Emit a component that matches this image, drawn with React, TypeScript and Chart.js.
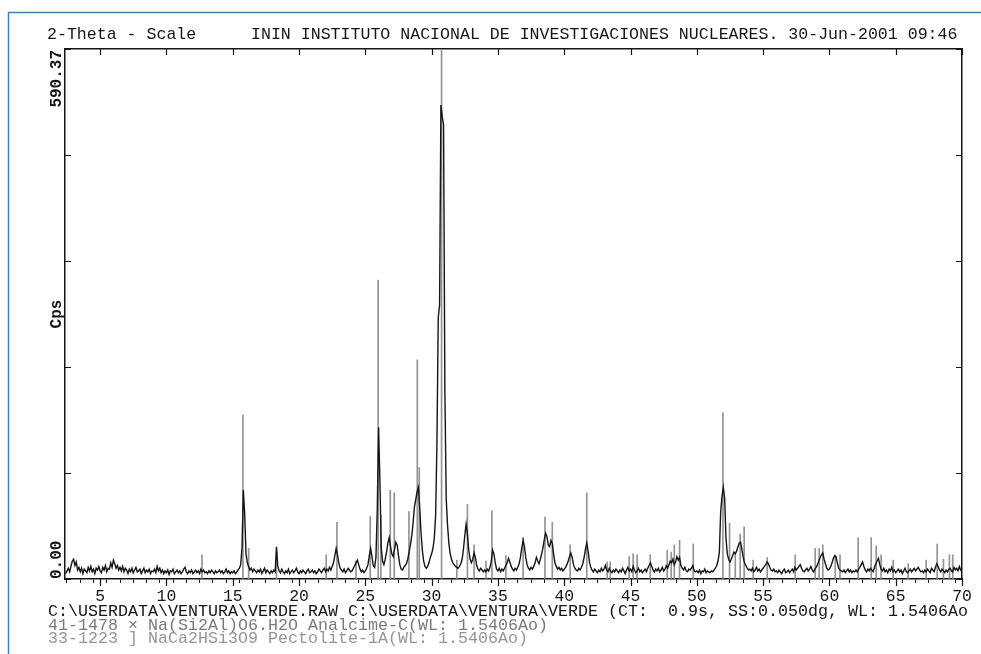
import React, { useEffect, useRef } from 'react';
import { Chart, registerables } from 'chart.js';

Chart.register(...registerables);

// ---- scan (measured pattern), 0.1 deg rows ----
const SCAN_START = 2.4;
const SCAN_STEP = 0.1;
const counts: number[] = [
  6, 9, 12, 8, 14, 20, // 2.4-2.9
  22, 15, 19, 10, 13, 8, 12, 6, 11, 9, // 3
  7, 13, 9, 14, 8, 11, 6, 12, 10, 14, // 4
  9, 7, 13, 10, 15, 8, 12, 11, 18, 13, // 5
  21, 17, 12, 15, 10, 13, 9, 14, 8, 12, // 6
  10, 6, 11, 8, 12, 7, 10, 13, 8, 9, // 7
  11, 6, 9, 12, 7, 10, 8, 11, 6, 9, // 8
  8, 11, 7, 14, 9, 12, 7, 10, 6, 9, // 9
  7, 10, 5, 9, 8, 11, 6, 8, 10, 7, // 10
  9, 6, 8, 11, 13, 8, 6, 9, 7, 10, // 11
  6, 8, 10, 7, 9, 6, 11, 8, 10, 7, // 12
  8, 6, 9, 7, 10, 8, 6, 9, 7, 8, // 13
  10, 7, 9, 6, 8, 11, 7, 9, 6, 8, // 14
  7, 9, 6, 8, 10, 12, 16, 35, 99, 73, // 15
  28, 18, 14, 10, 12, 8, 11, 9, 7, 10, // 16
  8, 11, 6, 9, 12, 7, 10, 8, 6, 9, // 17
  7, 10, 8, 36, 14, 9, 7, 11, 8, 6, // 18
  9, 7, 11, 6, 8, 10, 7, 9, 12, 8, // 19
  6, 9, 7, 10, 8, 6, 9, 11, 7, 8, // 20
  10, 7, 9, 6, 8, 11, 9, 7, 10, 12, // 21
  8, 11, 9, 13, 10, 14, 18, 26, 34, 27, // 22
  18, 12, 10, 8, 11, 7, 9, 12, 10, 8, // 23
  9, 12, 15, 18, 21, 16, 11, 8, 10, 7, // 24
  9, 12, 16, 26, 34, 25, 15, 13, 24, 77, // 25
  169, 110, 35, 20, 16, 22, 30, 40, 46, 36, // 26
  28, 25, 33, 41, 38, 26, 16, 11, 10, 13, // 27
  15, 17, 22, 30, 38, 48, 62, 80, 88, 97, // 28
  102, 80, 52, 32, 20, 14, 12, 14, 18, 24, // 29
  28, 34, 45, 70, 150, 291, 305, 528, 515, 506, // 30
  210, 90, 60, 40, 28, 22, 18, 16, 14, 13, // 31
  12, 14, 17, 22, 33, 48, 61, 50, 32, 22, // 32
  18, 22, 29, 24, 15, 11, 9, 12, 10, 8, // 33
  10, 8, 11, 9, 13, 20, 32, 28, 18, 11, // 34
  9, 12, 8, 11, 9, 12, 15, 18, 23, 19, // 35
  14, 11, 9, 12, 10, 13, 17, 24, 35, 43, // 36
  36, 24, 16, 12, 10, 13, 11, 14, 18, 24, // 37
  20, 17, 22, 28, 35, 44, 51, 47, 38, 36, // 38
  43, 40, 28, 18, 14, 11, 13, 10, 12, 9, // 39
  11, 13, 16, 20, 25, 29, 24, 16, 12, 10, // 40
  9, 12, 10, 13, 17, 24, 33, 40, 31, 19, // 41
  13, 10, 8, 11, 9, 7, 10, 8, 12, 9, // 42
  11, 15, 10, 8, 12, 9, 7, 10, 8, 11, // 43
  9, 7, 10, 8, 12, 9, 6, 10, 13, 9, // 44
  11, 8, 14, 10, 7, 9, 12, 8, 10, 7, // 45
  9, 11, 8, 12, 15, 18, 14, 10, 8, 11, // 46
  9, 12, 8, 10, 13, 9, 11, 15, 12, 16, // 47
  20, 18, 22, 16, 19, 25, 21, 24, 15, 12, // 48
  10, 13, 9, 8, 11, 10, 12, 15, 9, 8, // 49
  9, 7, 10, 6, 9, 8, 11, 7, 9, 8, // 50
  7, 9, 8, 10, 12, 15, 20, 30, 75, 92, // 51
  102, 90, 45, 28, 22, 19, 22, 26, 30, 28, // 52
  31, 36, 40, 41, 33, 24, 18, 15, 12, 10, // 53
  11, 9, 12, 8, 10, 13, 9, 11, 8, 10, // 54
  12, 14, 16, 19, 17, 13, 10, 9, 11, 8, // 55
  9, 7, 10, 8, 6, 9, 11, 7, 8, 10, // 56
  7, 9, 11, 8, 13, 10, 12, 14, 16, 12, // 57
  9, 8, 10, 12, 9, 11, 14, 10, 8, 11, // 58
  13, 16, 20, 24, 27, 29, 22, 17, 12, 10, // 59
  11, 14, 18, 23, 26, 25, 18, 12, 10, 9, // 60
  8, 10, 7, 9, 11, 8, 10, 7, 9, 8, // 61
  10, 8, 11, 13, 16, 19, 14, 10, 8, 11, // 62
  9, 12, 10, 8, 13, 17, 20, 23, 16, 11, // 63
  9, 12, 8, 10, 7, 11, 9, 13, 8, 10, // 64
  7, 9, 11, 8, 10, 6, 9, 12, 8, 7, // 65
  9, 11, 8, 10, 12, 9, 11, 13, 10, 8, // 66
  9, 7, 10, 8, 11, 9, 7, 12, 10, 8, // 67
  13, 17, 14, 10, 8, 11, 9, 7, 10, 8, // 68
  11, 12, 9, 8, 13, 10, 12, 9, 14, 10, // 69
  8, // 70
];
const twoTheta: number[] = counts.map((_, i) => Math.round((SCAN_START + i * SCAN_STEP) * 100) / 100);

// ---- reference patterns (stick lines) ----
const analcimePos = [15.77, 18.3, 24.3, 25.97, 31.9, 33.2, 35.6, 36.9, 40.45, 43.24, 45.2, 47.77, 48.7, 51.97, 52.47, 53.27, 54.25, 55.31, 57.42, 59.23, 60.44, 62.17, 64.81, 65.94, 67.3, 68.13, 69.05];
const analcimeInt = [183, 30, 20, 333, 21, 38, 26, 46, 38, 19, 28, 32, 43, 185, 62, 50, 21, 24, 27, 34, 27, 46, 21, 17, 21, 39, 27];
const pectolitePos = [12.68, 16.2, 22.05, 22.86, 25.37, 26.17, 26.88, 27.18, 28.29, 28.92, 29.07, 30.75, 32.7, 34.1, 34.55, 38.55, 39.1, 41.7, 43.47, 44.9, 45.5, 46.49, 48.07, 48.3, 49.73, 52.9, 53.57, 58.93, 59.5, 60.8, 63.15, 63.53, 63.9, 68.6, 69.3];
const pectoliteInt = [27, 34, 27, 63, 70, 71, 99, 96, 75, 244, 124, 600, 83, 20, 76, 69, 63, 96, 19, 25, 27, 27, 30, 38, 39, 27, 58, 34, 38, 27, 46, 37, 27, 22, 27];

// ---- axes ----
const X_MIN = 2.35;
const X_MAX = 70;
const Y_MAX = 590.37;
const X_LABEL_EVERY = 5;

// ---- texts ----
const headerLeft = '2-Theta - Scale';
const headerRight = 'ININ INSTITUTO NACIONAL DE INVESTIGACIONES NUCLEARES. 30-Jun-2001 09:46';
const yTitle = 'Cps';
const footerLines = [
  'C:\\USERDATA\\VENTURA\\VERDE.RAW C:\\USERDATA\\VENTURA\\VERDE (CT:  0.9s, SS:0.050dg, WL: 1.5406Ao',
  '41-1478 \u00d7 Na(Si2Al)O6.H2O Analcime-C(WL: 1.5406Ao)',
  '33-1223 ] NaCa2HSi3O9 Pectolite-1A(WL: 1.5406Ao)',
];
const footerColors = ['#151515', '#7a7a7a', '#969696'];

const MONO = "'Liberation Mono', 'DejaVu Sans Mono', monospace";
const INK = '#151515';
const STICK = '#939393';

// draw a monospace string so that each character cell is `pitch` px wide
function monoText(ctx: any, text: string, x: number, y: number, pitch: number) {
  const natural = ctx.measureText(text).width;
  const k = (pitch * text.length) / natural;
  ctx.save();
  ctx.translate(x, y);
  ctx.scale(k, 1);
  ctx.fillText(text, 0, 0);
  ctx.restore();
}

const decorPlugin = {
  id: 'decor',
  beforeDraw(chart: any) {
    const { ctx, width, height } = chart;
    ctx.save();
    ctx.fillStyle = '#ffffff';
    ctx.fillRect(0, 0, width, height);
    ctx.strokeStyle = '#4a7bb3';
    ctx.lineWidth = 1.5;
    ctx.beginPath();
    ctx.moveTo(8.5, height);
    ctx.lineTo(8.5, 12.5);
    ctx.lineTo(width, 12.5);
    ctx.stroke();
    ctx.restore();
  },
  afterDraw(chart: any) {
    const { ctx, chartArea: a } = chart;
    const x = chart.scales.x;
    const y = chart.scales.y;
    ctx.save();
    ctx.strokeStyle = INK;
    ctx.lineWidth = 1.2;
    ctx.beginPath();
    x.ticks.forEach((t: any) => {
      if (Math.abs(t.value % X_LABEL_EVERY) < 1e-6) {
        const px = Math.round(x.getPixelForValue(t.value)) + 0.5;
        ctx.moveTo(px, a.top);
        ctx.lineTo(px, a.top + 6);
        ctx.moveTo(px, a.bottom);
        ctx.lineTo(px, a.bottom + 7);
      }
    });
    y.ticks.forEach((t: any) => {
      const py = Math.round(y.getPixelForValue(t.value)) + 0.5;
      ctx.moveTo(a.left, py);
      ctx.lineTo(a.left + 6, py);
      ctx.moveTo(a.right - 6, py);
      ctx.lineTo(a.right, py);
    });
    ctx.stroke();

    // header
    ctx.font = `16.4px ${MONO}`;
    ctx.fillStyle = INK;
    ctx.textAlign = 'left';
    ctx.textBaseline = 'alphabetic';
    monoText(ctx, headerLeft, 47, 39, 9.95);
    monoText(ctx, headerRight, 251, 39, 9.95);

    // footer
    const baselines = [616, 630, 643];
    footerLines.forEach((line, i) => {
      ctx.fillStyle = footerColors[i];
      monoText(ctx, line, 48, baselines[i], 10.0);
    });

    // y labels (rotated)
    const first = y.ticks[0].value;
    const last = y.ticks[y.ticks.length - 1].value;
    const lx = a.left - 8;
    ctx.fillStyle = INK;
    ctx.font = `bold 16px ${MONO}`;
    ctx.textBaseline = 'middle';
    ctx.save();
    ctx.translate(lx, y.getPixelForValue(last) + 1);
    ctx.rotate(-Math.PI / 2);
    ctx.textAlign = 'right';
    ctx.fillText(last.toFixed(2), 0, 0);
    ctx.restore();
    ctx.save();
    ctx.translate(lx, y.getPixelForValue(first));
    ctx.rotate(-Math.PI / 2);
    ctx.textAlign = 'left';
    ctx.fillText(first.toFixed(2), 0, 0);
    ctx.restore();
    ctx.save();
    ctx.translate(lx, y.getPixelForValue((first + last) / 2));
    ctx.rotate(-Math.PI / 2);
    ctx.textAlign = 'center';
    ctx.fillText(yTitle, 0, 0);
    ctx.restore();
    ctx.restore();
  },
};

export default function App() {
  const canvasRef = useRef<HTMLCanvasElement | null>(null);

  useEffect(() => {
    const canvas = canvasRef.current;
    if (!canvas) return;
    const scanData = twoTheta.map((x, i) => ({ x, y: counts[i] }));
    const anaData = analcimePos.map((x, i) => ({ x, y: analcimeInt[i] }));
    const pecData = pectolitePos.map((x, i) => ({ x, y: pectoliteInt[i] }));

    const hiddenAxis = (position: string, isX: boolean) => ({
      type: 'linear',
      position,
      min: isX ? X_MIN : 0,
      max: isX ? X_MAX : Y_MAX,
      ticks: { display: false },
      grid: { display: true, drawOnChartArea: false, drawTicks: false },
      border: { display: true, color: INK, width: 1.5 },
      afterFit: (s: any) => {
        if (isX) s.height = 0;
        else s.width = 0;
      },
    });

    const chart = new Chart(canvas, {
      type: 'scatter',
      data: {
        datasets: [
          {
            type: 'line',
            label: 'VERDE.RAW',
            data: scanData,
            borderColor: INK,
            borderWidth: 1.4,
            pointRadius: 0,
            tension: 0,
            fill: false,
            order: 0,
          } as any,
          {
            type: 'bar',
            label: '41-1478 Analcime-C',
            data: anaData,
            backgroundColor: STICK,
            barThickness: 1,
            grouped: false,
            order: 1,
          } as any,
          {
            type: 'bar',
            label: '33-1223 Pectolite-1A',
            data: pecData,
            backgroundColor: STICK,
            barThickness: 1,
            grouped: false,
            order: 1,
          } as any,
        ],
      },
      options: {
        responsive: false,
        maintainAspectRatio: false,
        animation: false,
        devicePixelRatio: 1,
        layout: { padding: { left: 65, right: 19, top: 49, bottom: 0 } },
        plugins: {
          legend: { display: false },
          tooltip: { enabled: false },
          title: { display: false },
        },
        scales: {
          x: {
            type: 'linear',
            position: 'bottom',
            min: X_MIN,
            max: X_MAX,
            offset: false,
            ticks: {
              stepSize: 1,
              autoSkip: false,
              includeBounds: false,
              maxRotation: 0,
              minRotation: 0,
              padding: 4,
              color: INK,
              font: { family: MONO, size: 16.4 },
              callback: (v: any) => (Math.abs(Number(v) % X_LABEL_EVERY) < 1e-6 ? String(v) : ''),
            },
            grid: { drawOnChartArea: false, drawTicks: true, tickLength: 4, tickColor: INK, tickWidth: 1 },
            border: { display: true, color: INK, width: 1.5 },
            afterFit: (s: any) => {
              s.height = 75;
            },
          } as any,
          xTop: hiddenAxis('top', true) as any,
          y: {
            type: 'linear',
            position: 'left',
            min: 0,
            max: Y_MAX,
            ticks: { display: false, count: 6 },
            grid: { drawOnChartArea: false, drawTicks: false },
            border: { display: true, color: INK, width: 1.5 },
            afterFit: (s: any) => {
              s.width = 0;
            },
          } as any,
          yRight: hiddenAxis('right', false) as any,
        },
      },
      plugins: [decorPlugin],
    });
    return () => chart.destroy();
  }, []);

  return (
    <div style={{ position: 'fixed', left: 0, top: 0, width: 981, height: 654, background: '#fff' }}>
      <canvas ref={canvasRef} width={981} height={654} style={{ width: 981, height: 654, display: 'block' }} />
    </div>
  );
}
